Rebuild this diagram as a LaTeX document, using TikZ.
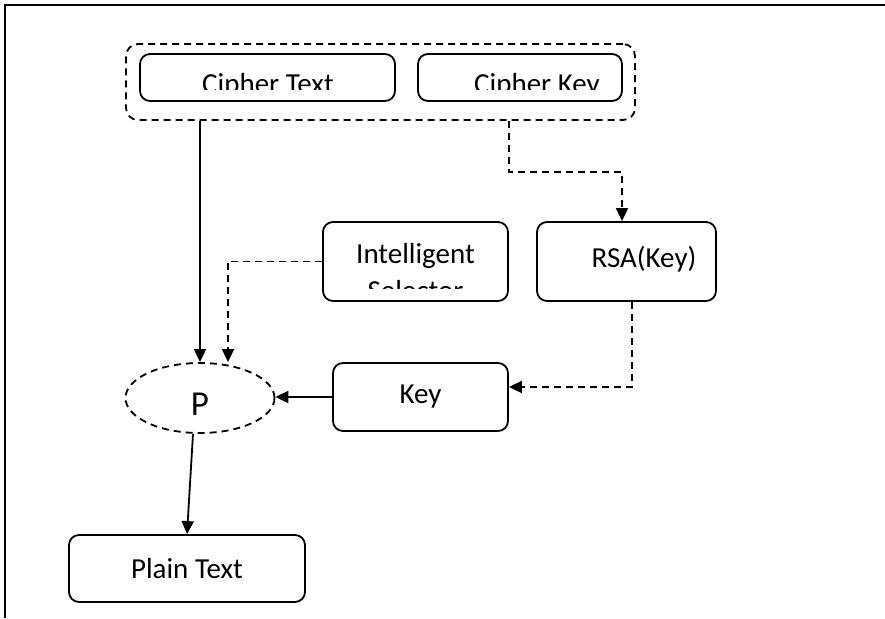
\documentclass[tikz,border=0pt]{standalone}
\usepackage{fontspec}
\setmainfont{Carlito}
\usetikzlibrary{shapes.geometric,arrows.meta,calc}
\begin{document}
\begin{tikzpicture}[x=1pt,y=-1pt,
box/.style={rectangle,draw,rounded corners=10pt,line width=1.8pt,inner sep=0pt},
boxtext/.style n args={3}{path picture={
    \clip ([yshift=12pt]path picture bounding box.south west) rectangle (path picture bounding box.north east);
    \node[draw=none,inner sep=0pt,anchor=base] at ([xshift=#2,yshift=#3]path picture bounding box.center) {#1};}},
flow/.style={line width=1.8pt,-{Triangle[length=13pt,width=12pt]}},
dflow/.style={flow,dash pattern=on 7pt off 5pt}]
\tikzstyle{every node}=[font=\fontsize{29}{35}\selectfont]
\useasboundingbox (0,0) rectangle (885,618);
\draw[line width=2.5pt] (885,5) -- (5,5) -- (5,618);
% inputs
\node[box,dash pattern=on 7pt off 5pt,rounded corners=12pt,minimum width=509pt,minimum height=76pt] (grp) at (380.5,82) {};
\node[box,minimum width=255pt,minimum height=47pt,boxtext={Cipher Text}{0.5pt}{-15.5pt}] (ct) at (267.5,77.5) {};
\node[box,minimum width=204pt,minimum height=47pt,boxtext={Cipher Key}{17pt}{-15.5pt}] (ck) at (520,77.5) {};
% middle row
\node[box,minimum width=185pt,minimum height=79pt,path picture={
    \clip ([yshift=13pt]path picture bounding box.south west) rectangle (path picture bounding box.north east);
    \node[draw=none,inner sep=0pt,anchor=base] (sel1) at ([yshift=-1.5pt]path picture bounding box.center) {Intelligent};
    \node[draw=none,inner sep=0pt,anchor=base] (sel2) at ([yshift=-39pt]path picture bounding box.center) {Selector};}] (sel) at (415.5,261.5) {};
\node[box,minimum width=179pt,minimum height=79pt,boxtext={RSA(Key)}{17.5pt}{-5.5pt}] (rsa) at (626.5,261.5) {};
% process
\node[ellipse,draw,line width=1.8pt,dash pattern=on 7pt off 5pt,inner sep=0pt,minimum width=149pt,minimum height=70pt,
  boxtext={\fontsize{35}{40}\selectfont P}{0pt}{-17pt}] (P) at (200,398) {};
\node[box,minimum width=175pt,minimum height=68pt] (key) at (420.5,397) {Key};
\node[box,minimum width=236pt,minimum height=67pt] (plain) at (187,568.5) {Plain Text};
% connectors
\draw[flow] (grp.south -| P.north) -- (P.north);
\draw[dflow] ($(ck.south |- grp.south)+(-11,0)$) -- ++(0,51) -| ([xshift=-4.5pt]rsa.north);
\draw[dflow] (sel.west) -| ([xshift=28pt]P.north);
\draw[dflow] ([xshift=5.5pt]rsa.south) |- ([yshift=10pt]key.east);
\draw[flow] (key.west) -- (key.west -| P.east);
\draw[flow] ([xshift=-7pt]P.south) -- (plain.north);
\end{tikzpicture}
\end{document}
